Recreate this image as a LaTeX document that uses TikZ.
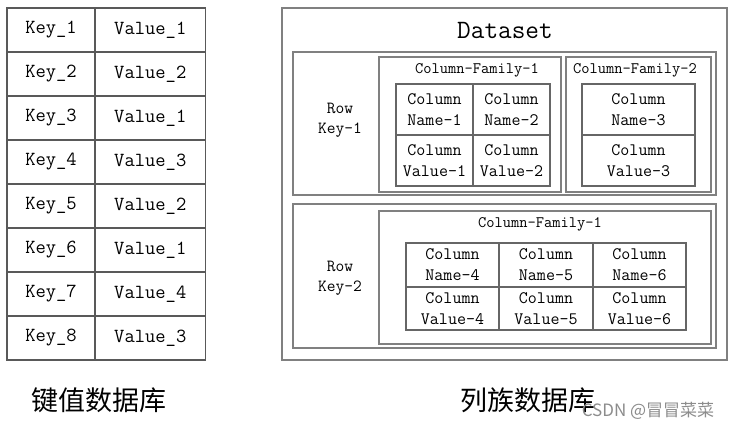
\documentclass[tikz,border=0pt]{standalone}
\usepackage{fontspec}
\newfontfamily\cjk{Noto Sans CJK SC}
\begin{document}
\begin{tikzpicture}[x=1pt,y=-1pt,
  tcell/.style={draw=black!65,line width=1.3pt,rectangle,inner sep=0pt,font=\ttfamily\fontsize{20}{22}\selectfont},
  gbox/.style={draw=black!50,line width=1.4pt,rectangle,inner sep=0pt},
  gcell/.style={draw=black!60,line width=1.2pt,rectangle,inner sep=0pt,align=center,font=\ttfamily\fontsize{17.5}{21}\selectfont},
  cftitle/.style={inner sep=0pt,font=\ttfamily\fontsize{16}{18}\selectfont},
  rowkey/.style={inner sep=0pt,align=center,font=\ttfamily\fontsize{17}{20}\selectfont},
  cjklabel/.style={inner sep=0pt,font=\cjk\fontsize{27}{30}\selectfont}]
\useasboundingbox[fill=white] (0,0) rectangle (733,435);
% key-value table
\foreach \k/\v [count=\i] in {1/1,2/2,3/1,4/3,5/2,6/1,7/4,8/3}{
  \node[tcell,minimum width=88pt,minimum height=44pt] (k\i) at (51,{8+44*(\i-0.5)}) {Key\_\k};
  \node[tcell,minimum width=110.5pt,minimum height=44pt] (v\i) at (150.25,{8+44*(\i-0.5)}) {Value\_\v};
}
\node[cjklabel] (kvlabel) at (98.5,400) {键值数据库};
% column-family database
\node[gbox,minimum width=445pt,minimum height=352pt] (ds) at (504.5,184) {};
\node[inner sep=0pt,font=\ttfamily\fontsize{26.5}{28}\selectfont] (dstitle) at (505,30) {Dataset};
\node[gbox,minimum width=423pt,minimum height=143pt] (row1) at (504.5,123.5) {};
\node[gbox,minimum width=423pt,minimum height=144pt] (row2) at (504.5,276) {};
\node[rowkey] (rk1) at (340,120) {Row\\Key-1};
\node[rowkey] (rk2) at (340,278) {Row\\Key-2};
\node[gbox,minimum width=182pt,minimum height=135pt] (cf1a) at (470,124.5) {};
\node[gbox,minimum width=145pt,minimum height=135pt] (cf2) at (638.5,124.5) {};
\node[gbox,minimum width=332pt,minimum height=133pt] (cf1b) at (545,277.5) {};
\node[cftitle] (cf1at) at (477,70) {Column-Family-1};
\node[cftitle] (cf2t) at (635,70) {Column-Family-2};
\node[cftitle] (cf1bt) at (540,224) {Column-Family-1};
% grid 1
\node[gcell,minimum width=77pt,minimum height=51pt] (n1) at (434.5,109.5) {Column\\Name-1};
\node[gcell,minimum width=77pt,minimum height=51pt] (n2) at (511.5,109.5) {Column\\Name-2};
\node[gcell,minimum width=77pt,minimum height=51pt] (c1) at (434.5,160.5) {Column\\Value-1};
\node[gcell,minimum width=77pt,minimum height=51pt] (c2) at (511.5,160.5) {Column\\Value-2};
% grid 2
\node[gcell,minimum width=113pt,minimum height=51pt] (n3) at (638.5,109.5) {Column\\Name-3};
\node[gcell,minimum width=113pt,minimum height=51pt] (c3) at (638.5,160.5) {Column\\Value-3};
% grid 3
\node[gcell,minimum width=93pt,minimum height=44pt] (n4) at (452.5,265) {Column\\Name-4};
\node[gcell,minimum width=94pt,minimum height=44pt] (n5) at (546,265) {Column\\Name-5};
\node[gcell,minimum width=93pt,minimum height=44pt] (n6) at (639.5,265) {Column\\Name-6};
\node[gcell,minimum width=93pt,minimum height=43pt] (c4) at (452.5,308.5) {Column\\Value-4};
\node[gcell,minimum width=94pt,minimum height=43pt] (c5) at (546,308.5) {Column\\Value-5};
\node[gcell,minimum width=93pt,minimum height=43pt] (c6) at (639.5,308.5) {Column\\Value-6};
\node[cjklabel] (cflabel) at (527.5,400) {列族数据库};
\node[inner sep=0pt,text=black!45,font=\cjk\fontsize{17}{19}\selectfont] (wm) at (648,411) {CSDN @冒冒菜菜};
\end{tikzpicture}
\end{document}
